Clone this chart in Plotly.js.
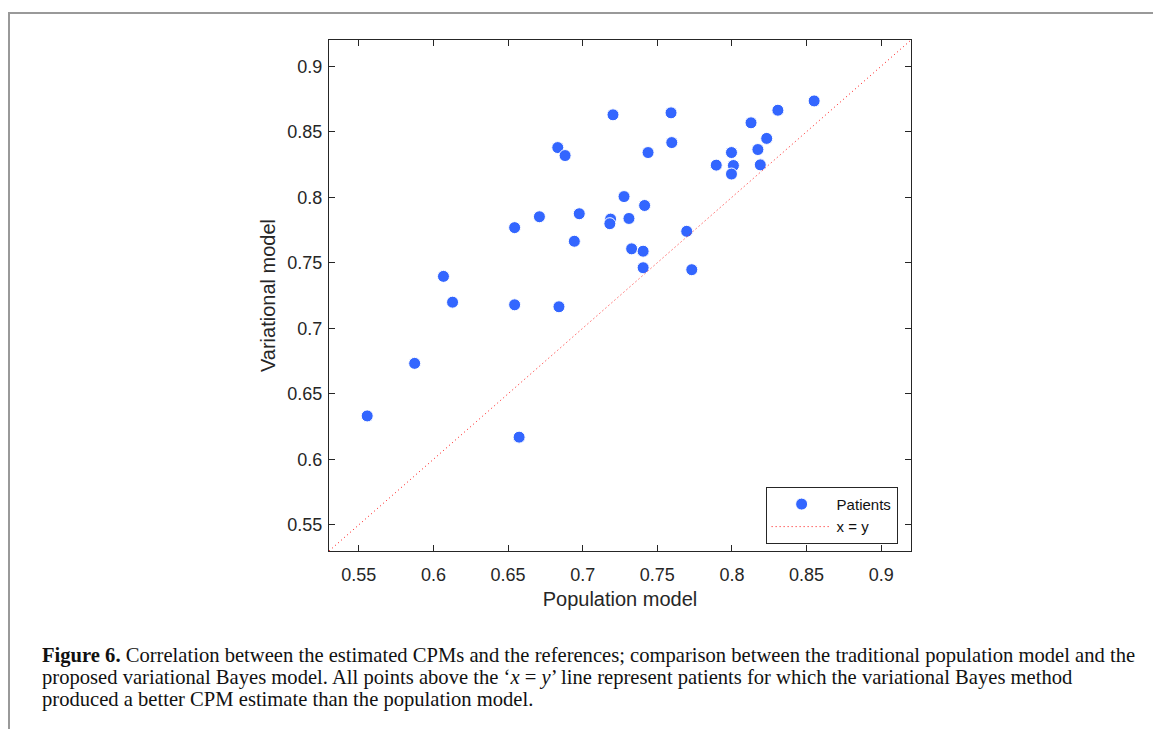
<!DOCTYPE html>
<html>
<head>
<meta charset="utf-8">
<script src="https://cdn.plot.ly/plotly-3.0.1.min.js"></script>
<style>
html,body{margin:0;padding:0;background:#fff;}
#chart{width:1153px;height:729px;}
</style>
</head>
<body>
<div id="chart"></div>
<script>
// Population model (x) vs Variational model (y), one entry per patient
const populationModel = [
  0.7203, 0.7592, 0.8551, 0.8308, 0.8128, 0.8233, 0.7597, 0.6833, 0.6882, 0.7438,
  0.7997, 0.8174, 0.7895, 0.8010, 0.8190, 0.7997, 0.7277, 0.7415, 0.6977, 0.6710,
  0.7187, 0.7182, 0.7310, 0.6544, 0.7697, 0.6944, 0.7328, 0.7405, 0.7405, 0.7731,
  0.6067, 0.6128, 0.6544, 0.6841, 0.5874, 0.5556, 0.6574
];
const variationalModel = [
  0.8629, 0.8644, 0.8735, 0.8664, 0.8568, 0.8449, 0.8417, 0.8379, 0.8318, 0.8341,
  0.8341, 0.8364, 0.8245, 0.8242, 0.8247, 0.8177, 0.8005, 0.7937, 0.7874, 0.7851,
  0.7833, 0.7798, 0.7838, 0.7768, 0.7740, 0.7664, 0.7606, 0.7588, 0.7462, 0.7447,
  0.7396, 0.7199, 0.7179, 0.7164, 0.6732, 0.6331, 0.6169
];
const identityLine = [0.53, 0.92];
const tickValues = [0.55, 0.6, 0.65, 0.7, 0.75, 0.8, 0.85, 0.9];
const tickLabels = ['0.55', '0.6', '0.65', '0.7', '0.75', '0.8', '0.85', '0.9'];
const seriesNames = ['Patients', 'x = y'];
const xTitle = 'Population model';
const yTitle = 'Variational model';
const captionLines = [
  '<b>Figure 6.</b> Correlation between the estimated CPMs and the references; comparison between the traditional population model and the',
  'proposed variational Bayes model. All points above the \u2018<i>x</i> = <i>y</i>\u2019 line represent patients for which the variational Bayes method',
  'produced a better CPM estimate than the population model.'
];

const sans = 'Liberation Sans, Arial, sans-serif';
const axisFont = {family: sans, size: 18, color: '#262626'};
const commonAxis = {
  range: [0.53, 0.92],
  tickvals: tickValues,
  ticktext: tickLabels,
  ticks: 'inside',
  ticklen: 6,
  tickwidth: 1,
  tickcolor: '#262626',
  showline: true,
  linecolor: '#262626',
  linewidth: 1.2,
  mirror: 'ticks',
  showgrid: false,
  zeroline: false,
  tickfont: axisFont,
  fixedrange: true
};

const data = [
  {
    x: populationModel,
    y: variationalModel,
    mode: 'markers',
    type: 'scatter',
    name: seriesNames[0],
    marker: {color: '#3366ff', size: 12, line: {color: '#ffffff', width: 1}},
    cliponaxis: false
  },
  {
    x: identityLine,
    y: identityLine,
    mode: 'lines',
    type: 'scatter',
    name: seriesNames[1],
    line: {color: '#ff1010', width: 1, dash: '1px,3px'}
  }
];

const plotTop = 40, plotBottom = 551, plotH = plotBottom - plotTop;
const plotLeft = 329, plotW = 911 - 329;
const captionY = [655, 677, 699];

const layout = {
  width: 1153,
  height: 729,
  paper_bgcolor: '#ffffff',
  plot_bgcolor: '#ffffff',
  margin: {l: plotLeft, r: 1153 - 911, t: plotTop, b: 729 - plotBottom},
  showlegend: true,
  legend: {
    x: 0.977, y: 0.014, xanchor: 'right', yanchor: 'bottom',
    bgcolor: '#ffffff', bordercolor: '#262626', borderwidth: 1,
    font: {family: sans, size: 15, color: '#111'},
    itemwidth: 60, tracegroupgap: 0
  },
  xaxis: Object.assign({}, commonAxis, {
    ticklabelstandoff: 7,
    title: {text: xTitle, font: {family: sans, size: 20, color: '#262626'}, standoff: 8}
  }),
  yaxis: Object.assign({}, commonAxis, {
    ticklabelstandoff: 2,
    title: {text: yTitle, font: {family: sans, size: 20, color: '#262626'}, standoff: 6}
  }),
  annotations: captionLines.map(function(t, i){
    return {
      xref: 'paper', yref: 'paper',
      x: (40 - plotLeft) / plotW, y: (plotBottom - captionY[i]) / plotH,
      xanchor: 'left', yanchor: 'middle', align: 'left',
      showarrow: false,
      text: t,
      font: {family: 'Liberation Serif, Times New Roman, serif', size: 20.6, color: '#111'}
    };
  })
};

Plotly.newPlot('chart', data, layout, {displayModeBar: false, staticPlot: true}).then(function(){
  const frame = document.createElement('div');
  frame.style.cssText = 'position:absolute;left:8px;top:12px;width:1200px;height:800px;border-top:2px solid #999;border-left:2px solid #999;pointer-events:none;';
  document.body.appendChild(frame);
});
</script>
</body>
</html>
